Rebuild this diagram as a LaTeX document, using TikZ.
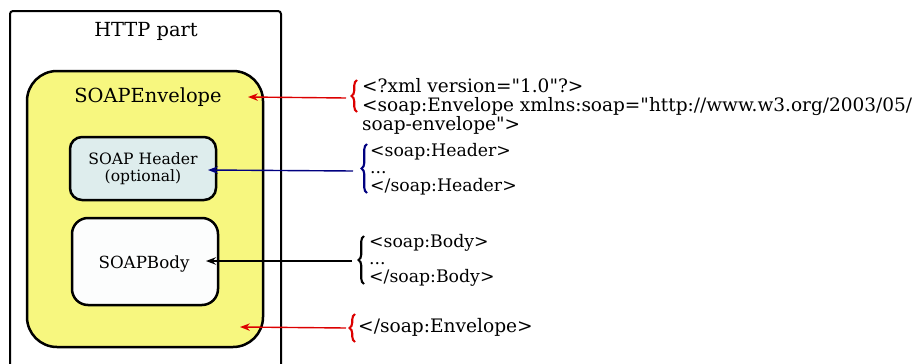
\documentclass[tikz,border=0pt]{standalone}
\usepackage{fontspec}
\setmainfont{DejaVu Serif}
\usetikzlibrary{arrows.meta, decorations.pathreplacing}

\definecolor{envyellow}{RGB}{247,247,127}
\definecolor{headcyan}{RGB}{222,237,237}
\definecolor{bodywhite}{RGB}{252,253,253}
\definecolor{tagred}{RGB}{220,0,0}
\definecolor{tagblue}{RGB}{0,0,128}

\begin{document}
\begin{tikzpicture}[
    x = 1pt, y = -1pt,
    soapbox/.style = { draw, line width = 2.5pt, rounded corners = #1 },
    soapbox/.default = 15pt,
    tagtext/.style = { anchor = west, align = left, inner sep = 0pt,
                       font = \fontsize{17.3}{17.5}\selectfont },
    tagarrow/.style = { -{Stealth[length = 10pt, width = 7.5pt, inset = 3.5pt]}, line width = 1.4pt },
    tagbrace/.style = { decorate, decoration = { brace, amplitude = 5.5pt }, line width = 2.1pt }
]
    \useasboundingbox (0, 0) rectangle (919, 364);

    \draw[line width = 2pt, rounded corners = 3pt] (10, 366) -- (10, 11) -- (281, 11) -- (281, 366);
    \node[font = \fontsize{19.4}{20}\selectfont] (http) at (146, 31) {HTTP part};

    \node[soapbox = 30pt, fill = envyellow, minimum width = 236pt, minimum height = 276pt] (env) at (145, 209) {};
    \node[font = \fontsize{19.4}{20}\selectfont] (envlabel) at (148, 97) {SOAPEnvelope};

    \node[soapbox = 12pt, fill = headcyan, minimum width = 146pt, minimum height = 63pt,
          align = center, font = \fontsize{15.6}{16.5}\selectfont] (head) at (143, 168.5) {SOAP Header\\(optional)};
    \node[soapbox = 16pt, fill = bodywhite, minimum width = 146pt, minimum height = 87pt] (body) at (145, 261.5) {};
    \node[font = \fontsize{16.7}{17}\selectfont] (bodylabel) at (144, 264) {SOAPBody};

    \node[tagtext, font = \fontsize{18.5}{19}\selectfont] (xmlhead) at (362, 106)
        {<?xml version=\textquotedbl1.0\textquotedbl?>\\<soap:Envelope xmlns:soap=\textquotedbl http://www.w3.org/2003/05/\\soap-envelope\textquotedbl>};
    \node[tagtext] (headtags) at (370, 169) {<soap:Header>\\...\\</soap:Header>};
    \node[tagtext] (bodytags) at (369, 260) {<soap:Body>\\...\\</soap:Body>};
    \node[tagtext, font = \fontsize{18.6}{19}\selectfont] (envclose) at (358, 327) {</soap:Envelope>};

    \draw[tagbrace, tagred] (357, 112) -- (357, 80);
    \draw[tagbrace, tagblue] (367, 193) -- (367, 144);
    \draw[tagbrace] (364, 284) -- (364, 236);
    \draw[tagbrace, tagred] (355, 342) -- (355, 314);

    \coordinate (envtop) at (248, 97);
    \coordinate (headend) at (208, 170);
    \coordinate (bodyend) at (206, 261);
    \coordinate (envbottom) at (240, 327);
    \coordinate (xmlbrace) at (346, 98);
    \coordinate (headbrace) at (353, 171);
    \coordinate (bodybrace) at (352, 261);
    \coordinate (closebrace) at (346, 328);

    \draw[tagarrow, tagred] (xmlbrace) -- (envtop);
    \draw[tagarrow, tagblue] (headbrace) -- (headend);
    \draw[tagarrow] (bodybrace) -- (bodyend);
    \draw[tagarrow, tagred] (closebrace) -- (envbottom);
\end{tikzpicture}
\end{document}
